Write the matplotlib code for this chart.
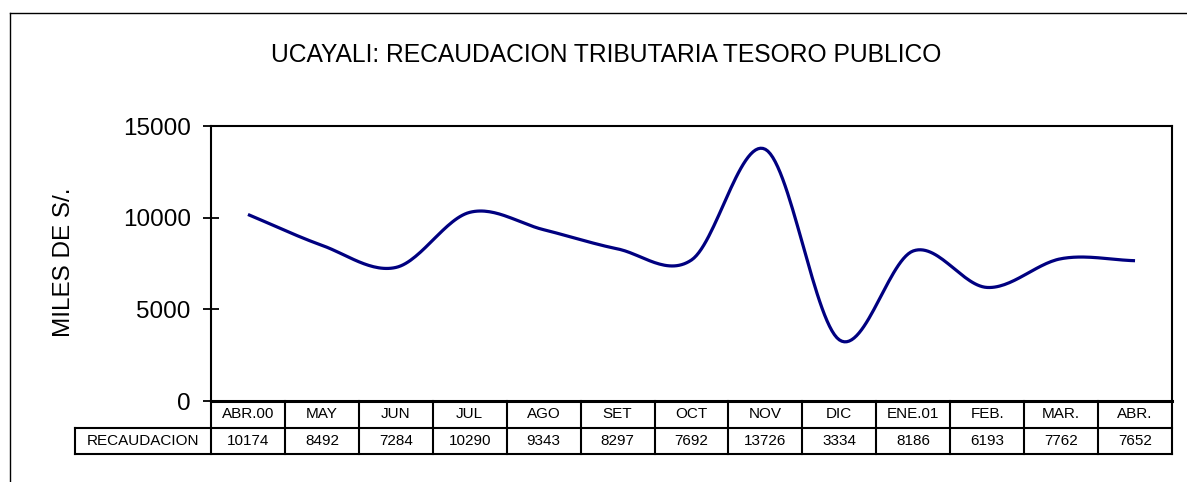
import numpy as np
import matplotlib
matplotlib.use("Agg")
import matplotlib.pyplot as plt
from matplotlib.lines import Line2D

plt.rcParams['font.family'] = ['Liberation Sans', 'DejaVu Sans']

months = ["ABR.00", "MAY", "JUN", "JUL", "AGO", "SET", "OCT", "NOV", "DIC",
          "ENE.01", "FEB.", "MAR.", "ABR."]
recaudacion = [10174, 8492, 7284, 10290, 9343, 8297, 7692, 13726, 3334,
               8186, 6193, 7762, 7652]
row_label = "RECAUDACION"
title = "UCAYALI: RECAUDACION TRIBUTARIA TESORO PUBLICO"
ylabel = "MILES DE S/."
yticks = [0, 5000, 10000, 15000]


def catmull_rom(x, y, n=30):
    x = np.asarray(x, float); y = np.asarray(y, float)
    px = np.concatenate([[2 * x[0] - x[1]], x, [2 * x[-1] - x[-2]]])
    py = np.concatenate([[2 * y[0] - y[1]], y, [2 * y[-1] - y[-2]]])
    xs, ys = [], []
    t = np.linspace(0, 1, n, endpoint=False)
    for i in range(1, len(px) - 2):
        p0, p1, p2, p3 = px[i - 1], px[i], px[i + 1], px[i + 2]
        q0, q1, q2, q3 = py[i - 1], py[i], py[i + 1], py[i + 2]
        for (a0, a1, a2, a3, out) in ((p0, p1, p2, p3, xs), (q0, q1, q2, q3, ys)):
            out.extend(0.5 * ((2 * a1) + (-a0 + a2) * t +
                              (2 * a0 - 5 * a1 + 4 * a2 - a3) * t ** 2 +
                              (-a0 + 3 * a1 - 3 * a2 + a3) * t ** 3))
    xs.append(x[-1]); ys.append(y[-1])
    return np.array(xs), np.array(ys)


W, H = 1187, 482
fig = plt.figure(figsize=(W / 100, H / 100), dpi=100)
L, R, T, B = 211, 1172, 126, 401
ax = fig.add_axes([L / W, 1 - B / H, (R - L) / W, (B - T) / H])

xi = np.arange(len(months))
sx, sy = catmull_rom(xi, recaudacion)
ax.plot(sx, sy, color="#000080", lw=2.3, solid_capstyle="butt")

ax.set_xlim(-0.5, len(months) - 0.5)
ax.set_ylim(0, 15000)
ax.set_yticks(yticks)
ax.set_yticklabels([str(v) for v in yticks], fontsize=17.5)
ax.tick_params(axis='y', direction='inout', length=12, width=1.3, pad=8.5)
ax.set_xticks([])
for s in ax.spines.values():
    s.set_linewidth(1.5)
ax.spines['bottom'].set_linewidth(2.2)

# data table below axes
row_h = 26.5 / (B - T)
lw_t = 1.5
tr = ax.get_xaxis_transform()
y0 = 0
y1 = -row_h
y2 = -2 * row_h
lab_left = -0.5 - (L - 75) / ((R - L) / len(months))
kw = dict(color="black", lw=lw_t, transform=tr, clip_on=False)
ax.add_line(Line2D([lab_left, len(months) - 0.5], [y1, y1], **kw))
ax.add_line(Line2D([lab_left, len(months) - 0.5], [y2, y2], **kw))
ax.add_line(Line2D([lab_left, lab_left], [y1, y2], **kw))
for b in np.arange(-0.5, len(months), 1.0):
    ax.add_line(Line2D([b, b], [y0, y2], **kw))
for i, (m, v) in enumerate(zip(months, recaudacion)):
    ax.text(i, (y0 + y1) / 2, m, transform=tr, ha="center", va="center", fontsize=11)
    ax.text(i, (y1 + y2) / 2, str(v), transform=tr, ha="center", va="center", fontsize=11)
ax.text((lab_left - 0.5) / 2, (y1 + y2) / 2, row_label, transform=tr,
        ha="center", va="center", fontsize=11)

fig.text(606 / W, 1 - 55 / H, title, ha="center", va="center", fontsize=17.7)
fig.text(64 / W, 1 - 262 / H, ylabel, ha="center", va="center", rotation=90, fontsize=17.5)

# outer frame (left and top)
fig.add_artist(Line2D([10 / W, 10 / W], [0, 1 - 13 / H], transform=fig.transFigure,
                      color="black", lw=1))
fig.add_artist(Line2D([10 / W, 1], [1 - 13 / H, 1 - 13 / H], transform=fig.transFigure,
                      color="black", lw=1))

fig.savefig("out.png", dpi=100)
